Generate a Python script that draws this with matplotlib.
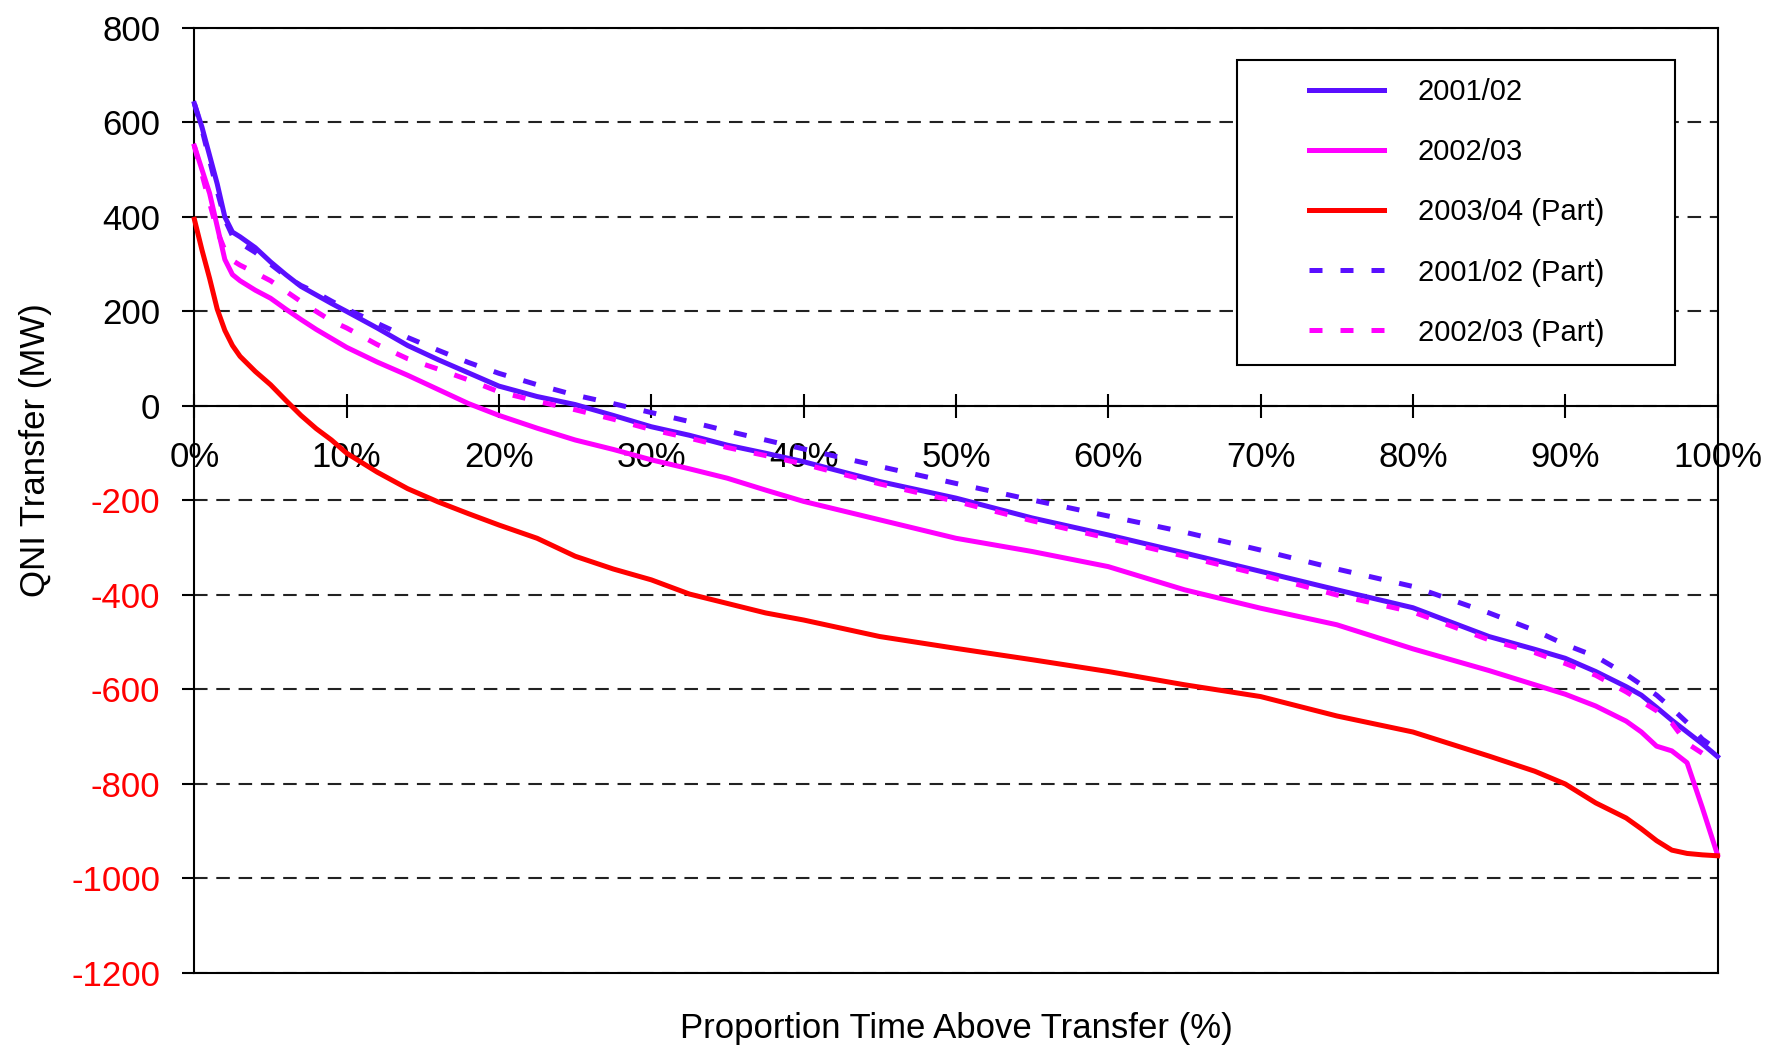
import matplotlib
matplotlib.use("Agg")
import matplotlib.pyplot as plt
from matplotlib.patches import Rectangle

plt.rcParams['font.family'] = ['Liberation Sans', 'DejaVu Sans']
plt.rcParams['axes.unicode_minus'] = False

# Proportion of time above transfer (%)
pct = [0, 0.5, 1, 1.5, 2, 2.5, 3, 4, 5, 6, 7, 8, 9, 10, 12, 14, 16, 18, 20,
       22.5, 25, 27.5, 30, 32.5, 35, 37.5, 40, 45, 50, 55, 60, 65, 70, 75, 80,
       85, 88, 90, 92, 94, 95, 96, 97, 98, 99, 100]

# QNI transfer (MW) for each series
y2001 = [640, 590, 530, 470, 400, 368, 358, 335, 305, 278, 253, 235, 217, 200,
         165, 128, 98, 70, 42, 20, 3, -20, -44, -62, -83, -100, -118, -160,
         -195, -237, -273, -311, -350, -389, -427, -488, -515, -534, -562,
         -594, -612, -638, -665, -690, -715, -742]
y2002 = [550, 500, 450, 380, 310, 278, 265, 245, 228, 205, 183, 162, 143, 124,
         93, 65, 35, 5, -20, -47, -72, -92, -114, -133, -153, -178, -202,
         -241, -280, -308, -340, -389, -428, -463, -514, -560, -590, -610,
         -635, -667, -690, -720, -730, -755, -850, -950]
y2003_part = [395, 330, 270, 205, 160, 128, 105, 73, 45, 12, -20, -48, -72,
              -100, -140, -175, -203, -228, -252, -280, -318, -345, -368, -398,
              -418, -438, -453, -488, -513, -537, -562, -590, -615, -656, -690,
              -741, -773, -800, -840, -872, -895, -920, -940, -947, -950, -952]
y2001_part = [640, 585, 520, 455, 395, 360, 345, 325, 300, 275, 255, 240, 222,
              205, 175, 145, 118, 92, 69, 45, 23, 5, -14, -33, -53, -72, -91,
              -128, -164, -199, -233, -267, -305, -345, -382, -438, -475, -505,
              -530, -568, -590, -612, -640, -670, -705, -728]
y2002_part = [550, 490, 430, 370, 330, 308, 298, 282, 265, 243, 221, 200, 180,
              165, 130, 100, 78, 55, 30, 10, -8, -28, -50, -68, -88, -105, -123,
              -165, -202, -243, -280, -318, -357, -400, -436, -495, -522, -545,
              -570, -605, -625, -645, -671, -714, -735, -749]

labels = ['2001/02', '2002/03', '2003/04 (Part)', '2001/02 (Part)', '2002/03 (Part)']
yticks = [800, 600, 400, 200, 0, -200, -400, -600, -800, -1000, -1200]
xticks = [0, 10, 20, 30, 40, 50, 60, 70, 80, 90, 100]

blue = '#5A0FFF'
magenta = '#FF00FF'
red = '#FF0000'

fig = plt.figure(figsize=(17.67, 10.47), dpi=100)
ax = fig.add_axes([0.110, 0.0707, 0.862, 0.9026])

lw = 3.6
dash = (0, (2.6, 3.6))
ax.plot(pct, y2001, color=blue, lw=lw, label=labels[0], clip_on=False, zorder=3)
ax.plot(pct, y2002, color=magenta, lw=lw, label=labels[1], clip_on=False, zorder=3)
ax.plot(pct, y2003_part, color=red, lw=lw, label=labels[2], clip_on=False, zorder=3)
ax.plot(pct, y2001_part, color=blue, lw=lw, ls=dash, label=labels[3], clip_on=False, zorder=3)
ax.plot(pct, y2002_part, color=magenta, lw=lw, ls=dash, label=labels[4], clip_on=False, zorder=3)

ax.set_xlim(0, 100)
ax.set_ylim(-1200, 800)

# x axis sits on the zero line
ax.spines['bottom'].set_position(('data', 0))
ax.set_xticks(xticks)
ax.set_xticklabels([f'{v}%' for v in xticks])
ax.tick_params(axis='x', direction='inout', length=17, width=1.5, pad=17, labelsize=25)
ax.axhline(-1200, color='black', lw=1.5, clip_on=False, zorder=2.5)

# y axis
ax.set_yticks(yticks)
ax.set_yticklabels([str(v) for v in yticks])
ax.tick_params(axis='y', direction='out', length=8.6, width=1.5, pad=16, labelsize=25)
for lbl, v in zip(ax.get_yticklabels(), yticks):
    lbl.set_color('black' if v >= 0 else red)

for s in ax.spines.values():
    s.set_linewidth(1.5)
    s.set_color('black')

ax.yaxis.grid(True, color='#222222', lw=1.5, ls=(0, (6.5, 4.2)))
ax.set_axisbelow(True)

ax.set_xlabel('Proportion Time Above Transfer (%)', fontsize=25)
ax.xaxis.set_label_coords(0.5, -0.041)
ax.set_ylabel('QNI Transfer (MW)', fontsize=25, va='center')
ax.yaxis.set_label_coords(-0.104, 0.553)

# legend box
ax.add_patch(Rectangle((0.6848, 0.6434), 0.2876, 0.3228, transform=ax.transAxes,
                       facecolor='white', edgecolor='black', lw=1.5, zorder=4.5))
ax.legend(loc='center', bbox_to_anchor=(0.8286, 0.8048), frameon=False,
          fontsize=21, handlelength=2.6, handletextpad=1.15, labelspacing=1.1,
          borderpad=0)

fig.savefig('out.png', dpi=100, facecolor='white')
